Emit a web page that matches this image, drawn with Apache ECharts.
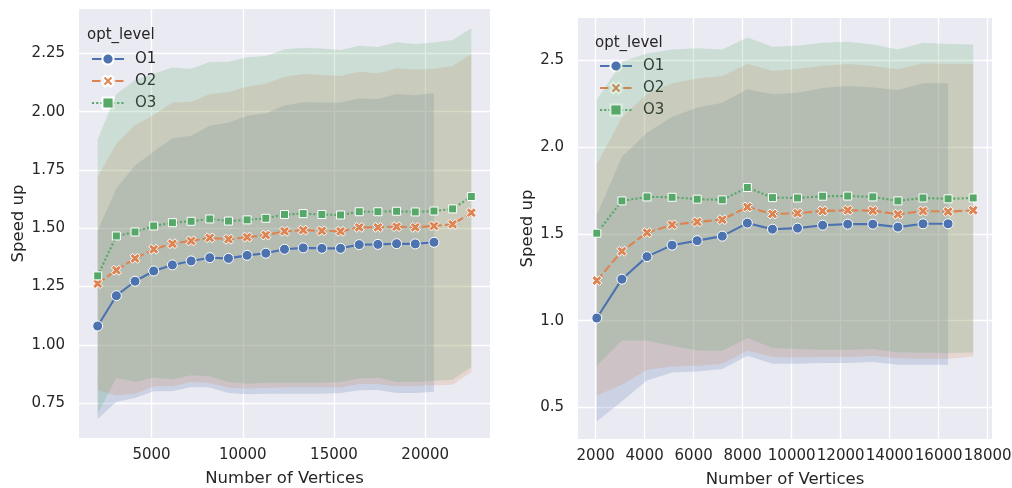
<!DOCTYPE html>
<html>
<head>
<meta charset="utf-8">
<script src="https://cdn.jsdelivr.net/npm/echarts@6/dist/echarts.min.js"></script>
<style>
html,body{margin:0;padding:0;background:#fff;}
#chart{width:1012px;height:488px;}
</style>
</head>
<body>
<div id="chart"></div>
<script>
// ---------- data ----------
const seriesNames = ['O1', 'O2', 'O3'];

const leftX = [2048, 3072, 4096, 5120, 6144, 7168, 8192, 9216, 10240, 11264, 12288, 13312, 14336, 15360, 16384, 17408, 18432, 19456, 20480, 21504, 22528];
const leftO1 = [1.081, 1.211, 1.273, 1.317, 1.343, 1.360, 1.374, 1.371, 1.384, 1.393, 1.410, 1.416, 1.414, 1.414, 1.430, 1.431, 1.434, 1.433, 1.440];
const leftO2 = [1.263, 1.320, 1.371, 1.410, 1.434, 1.446, 1.459, 1.453, 1.462, 1.471, 1.487, 1.492, 1.489, 1.487, 1.504, 1.504, 1.507, 1.504, 1.510, 1.517, 1.567];
const leftO3 = [1.296, 1.467, 1.484, 1.510, 1.524, 1.530, 1.540, 1.531, 1.536, 1.543, 1.559, 1.563, 1.559, 1.557, 1.571, 1.571, 1.573, 1.570, 1.574, 1.583, 1.636];
const leftO1Hi = [1.490, 1.672, 1.769, 1.829, 1.886, 1.897, 1.939, 1.953, 1.982, 1.993, 2.026, 2.040, 2.039, 2.039, 2.056, 2.054, 2.076, 2.070, 2.080];
const leftO1Lo = [0.682, 0.756, 0.773, 0.801, 0.801, 0.820, 0.817, 0.794, 0.789, 0.791, 0.791, 0.791, 0.791, 0.794, 0.806, 0.807, 0.794, 0.794, 0.799];
const leftO2Hi = [1.721, 1.862, 1.943, 1.986, 2.039, 2.042, 2.076, 2.084, 2.107, 2.121, 2.150, 2.161, 2.157, 2.153, 2.171, 2.165, 2.186, 2.180, 2.184, 2.196, 2.246];
const leftO2Lo = [0.806, 0.784, 0.791, 0.823, 0.823, 0.841, 0.837, 0.816, 0.813, 0.816, 0.817, 0.817, 0.817, 0.817, 0.832, 0.832, 0.823, 0.824, 0.827, 0.829, 0.884];
const leftO3Hi = [1.882, 2.076, 2.136, 2.162, 2.189, 2.184, 2.213, 2.214, 2.233, 2.239, 2.267, 2.274, 2.271, 2.264, 2.282, 2.277, 2.297, 2.290, 2.296, 2.307, 2.357];
const leftO3Lo = [0.705, 0.859, 0.841, 0.860, 0.853, 0.870, 0.866, 0.841, 0.834, 0.838, 0.838, 0.838, 0.838, 0.841, 0.856, 0.859, 0.841, 0.841, 0.846, 0.851, 0.905];

const rightX = [2048, 3072, 4096, 5120, 6144, 7168, 8192, 9216, 10240, 11264, 12288, 13312, 14336, 15360, 16384, 17408];
const rightO1 = [1.015, 1.239, 1.369, 1.435, 1.461, 1.487, 1.562, 1.527, 1.533, 1.550, 1.556, 1.556, 1.539, 1.558, 1.558];
const rightO2 = [1.231, 1.400, 1.507, 1.552, 1.569, 1.582, 1.655, 1.615, 1.619, 1.632, 1.636, 1.634, 1.613, 1.632, 1.628, 1.636];
const rightO3 = [1.504, 1.690, 1.713, 1.711, 1.700, 1.696, 1.767, 1.709, 1.707, 1.717, 1.718, 1.713, 1.690, 1.707, 1.702, 1.707];
const rightO1Hi = [1.609, 1.945, 2.083, 2.175, 2.227, 2.256, 2.333, 2.304, 2.313, 2.340, 2.352, 2.344, 2.329, 2.368, 2.368];
const rightO1Lo = [0.419, 0.535, 0.655, 0.701, 0.707, 0.721, 0.798, 0.752, 0.752, 0.756, 0.756, 0.761, 0.746, 0.746, 0.746];
const rightO2Hi = [1.903, 2.172, 2.306, 2.368, 2.396, 2.410, 2.479, 2.440, 2.450, 2.469, 2.479, 2.467, 2.448, 2.483, 2.481, 2.481];
const rightO2Lo = [0.569, 0.631, 0.717, 0.736, 0.740, 0.752, 0.828, 0.790, 0.788, 0.790, 0.790, 0.798, 0.784, 0.780, 0.780, 0.794];
const rightO3Hi = [2.271, 2.492, 2.540, 2.563, 2.569, 2.563, 2.632, 2.578, 2.584, 2.601, 2.607, 2.592, 2.563, 2.601, 2.594, 2.592];
const rightO3Lo = [0.740, 0.886, 0.886, 0.855, 0.828, 0.826, 0.900, 0.842, 0.836, 0.832, 0.832, 0.836, 0.817, 0.817, 0.813, 0.817];

const leftXTicks = [5000, 10000, 15000, 20000];
const leftYTicks = [0.75, 1.00, 1.25, 1.50, 1.75, 2.00, 2.25];
const rightXTicks = [2000, 4000, 6000, 8000, 10000, 12000, 14000, 16000, 18000];
const rightYTicks = [0.5, 1.0, 1.5, 2.0, 2.5];

// ---------- styling ----------
const FONT = 'DejaVu Sans';
const TXT = '#262626';
const COLORS = ['#4C72B0', '#DD8452', '#55A868'];
const BANDS = ['rgba(76,114,176,0.2)', 'rgba(221,132,82,0.2)', 'rgba(85,168,104,0.2)'];
const X_PATH = 'path://M0,2.5 L2.5,0 L5,2.5 L7.5,0 L10,2.5 L7.5,5 L10,7.5 L7.5,10 L5,7.5 L2.5,10 L0,7.5 L2.5,5 Z';
const SYMBOLS = ['circle', X_PATH, 'rect'];
const SIZES = [10, 10, 8];
const DASHES = ['solid', [8.4, 3.2], [2.1, 2.1]];

function lineSeries(i, xs, ys, gi) {
  return {
    type: 'line', name: seriesNames[i], xAxisIndex: gi, yAxisIndex: gi,
    data: ys.map((y, k) => [xs[k], y]),
    symbol: SYMBOLS[i], symbolSize: SIZES[i], showSymbol: true,
    lineStyle: { color: COLORS[i], width: 2.1, type: DASHES[i] },
    itemStyle: { color: COLORS[i], borderColor: '#ffffff', borderWidth: 1 },
    emphasis: { disabled: true }, silent: true,
    z: 10 + i, animation: false
  };
}
function bandSeries(i, xs, lo, hi, gi) {
  return {
    type: 'custom', xAxisIndex: gi, yAxisIndex: gi,
    data: [[xs[0], lo[0]]], silent: true, clip: true, z: 2 + i, animation: false,
    renderItem: function (params, api) {
      const pts = [];
      for (let k = 0; k < hi.length; k++) pts.push(api.coord([xs[k], hi[k]]));
      for (let k = lo.length - 1; k >= 0; k--) pts.push(api.coord([xs[k], lo[k]]));
      return { type: 'polygon', shape: { points: pts }, style: { fill: BANDS[i], stroke: null, lineWidth: 0 } };
    }
  };
}

function xAxisDef(gi, min, max, ticks) {
  return {
    type: 'value', gridIndex: gi, min: min, max: max,
    name: 'Number of Vertices', nameLocation: 'middle', nameGap: 32,
    nameTextStyle: { fontFamily: FONT, fontSize: 16.5, color: TXT },
    axisLine: { show: false },
    axisTick: { show: false, customValues: ticks },
    axisLabel: { customValues: ticks, fontFamily: FONT, fontSize: 15, color: TXT, margin: 10, formatter: v => String(v) },
    splitLine: { show: true, lineStyle: { color: '#ffffff', width: 1.3 } }
  };
}
function yAxisDef(gi, min, max, ticks, digits, gap) {
  return {
    type: 'value', gridIndex: gi, min: min, max: max,
    name: 'Speed up', nameLocation: 'middle', nameGap: gap,
    nameTextStyle: { fontFamily: FONT, fontSize: 16.5, color: TXT },
    axisLine: { show: false },
    axisTick: { show: false, customValues: ticks },
    axisLabel: { customValues: ticks, fontFamily: FONT, fontSize: 15, color: TXT, margin: 14, formatter: v => v.toFixed(digits) },
    splitLine: { show: true, lineStyle: { color: '#ffffff', width: 1.3 } }
  };
}
function legendDef(left, top) {
  return {
    data: seriesNames, orient: 'vertical', left: left, top: top, padding: 0,
    itemWidth: 32, itemHeight: 14, itemGap: 6, selectedMode: false,
    textStyle: { fontFamily: FONT, fontSize: 15, color: TXT, lineHeight: 16, padding: [0, 0, 0, 6] }
  };
}

const series = [
  bandSeries(0, leftX, leftO1Lo, leftO1Hi, 0),
  bandSeries(1, leftX, leftO2Lo, leftO2Hi, 0),
  bandSeries(2, leftX, leftO3Lo, leftO3Hi, 0),
  lineSeries(0, leftX, leftO1, 0),
  lineSeries(1, leftX, leftO2, 0),
  lineSeries(2, leftX, leftO3, 0),
  bandSeries(0, rightX, rightO1Lo, rightO1Hi, 1),
  bandSeries(1, rightX, rightO2Lo, rightO2Hi, 1),
  bandSeries(2, rightX, rightO3Lo, rightO3Hi, 1),
  lineSeries(0, rightX, rightO1, 1),
  lineSeries(1, rightX, rightO2, 1),
  lineSeries(2, rightX, rightO3, 1)
];

const chart = echarts.init(document.getElementById('chart'), null, { renderer: 'canvas' });
chart.setOption({
  animation: false,
  backgroundColor: '#ffffff',
  textStyle: { fontFamily: FONT },
  title: [
    { text: 'opt_level', left: 87, top: 28, padding: 0, textStyle: { fontFamily: FONT, fontSize: 15, fontWeight: 'normal', color: TXT } },
    { text: 'opt_level', left: 595, top: 36, padding: 0, textStyle: { fontFamily: FONT, fontSize: 15, fontWeight: 'normal', color: TXT } }
  ],
  legend: [legendDef(91, 51), legendDef(599, 58)],
  grid: [
    { left: 79, top: 9, width: 411, height: 429, show: true, backgroundColor: '#EAEAF2', borderWidth: 0, outerBoundsMode: 'none', containLabel: false },
    { left: 578, top: 18, width: 414, height: 421, show: true, backgroundColor: '#EAEAF2', borderWidth: 0, outerBoundsMode: 'none', containLabel: false }
  ],
  xAxis: [xAxisDef(0, 1024, 23552, leftXTicks), xAxisDef(1, 1280, 18176, rightXTicks)],
  yAxis: [yAxisDef(0, 0.601, 2.44, leftYTicks, 2, 52), yAxisDef(1, 0.318, 2.744, rightYTicks, 1, 40)],
  series: series
});
</script>
</body>
</html>
